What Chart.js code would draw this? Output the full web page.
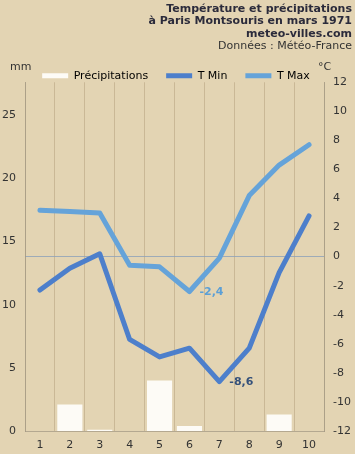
<!DOCTYPE html>
<html>
<head>
<meta charset="utf-8">
<script src="https://cdn.jsdelivr.net/npm/chart.js@4"></script>
<style>
  html, body { margin: 0; padding: 0; background: #e3d4b3; }
  #wrap { width: 355px; height: 454px; }
</style>
</head>
<body>
<div id="wrap"><canvas id="chart-meteo"></canvas></div>
<script>
// jours de mars 1971
const jours = ['1', '2', '3', '4', '5', '6', '7', '8', '9', '10'];
// precipitations en mm
const precipitations = [0, 2.1, 0.1, 0, 4.0, 0.4, 0, 0, 1.3, 0];
// temperatures en °C
const tMin = [-2.3, -0.8, 0.2, -5.7, -6.9, -6.3, -8.6, -6.3, -1.1, 2.8];
const tMax = [3.2, 3.1, 3.0, -0.6, -0.7, -2.4, -0.1, 4.2, 6.3, 7.7];

const titre = ['Température et précipitations', 'à Paris Montsouris en mars 1971', 'meteo-villes.com'];
const source = 'Données : Météo-France';

Chart.defaults.font.family = '"DejaVu Sans", Verdana, sans-serif';
Chart.defaults.font.size = 11;
Chart.defaults.color = '#333';

// fond, unites et etiquettes min/max
const decorPlugin = {
    id: 'decor',
    beforeLayout(chart) {
        // hauteur fixe pour la legende
        const lg = chart.legend;
        if (lg && !lg._fixe) {
            const fit = lg.fit;
            lg.fit = function () { fit.call(this); this.height = 30; };
            lg._fixe = true;
        }
    },
    beforeDraw(chart) {
        const c = chart.ctx;
        c.save();
        c.fillStyle = '#e3d4b3';
        c.fillRect(0, 0, chart.width, chart.height);
        c.restore();
    },
    afterDraw(chart) {
        const c = chart.ctx;
        const area = chart.chartArea;
        c.save();
        c.font = '11px "DejaVu Sans", Verdana, sans-serif';
        c.fillStyle = '#333';
        c.textBaseline = 'middle';
        c.textAlign = 'left';
        c.fillText('mm', 10, 67);
        c.fillText('°C', area.right - 6, 67);

        // valeurs extremes
        c.font = 'bold 11px "DejaVu Sans", Verdana, sans-serif';
        const x = chart.scales.x;
        const y2 = chart.scales.y2;
        const iMax = tMax.indexOf(Math.min(...tMax));
        const iMin = tMin.indexOf(Math.min(...tMin));
        c.fillStyle = '#5b9fd6';
        c.fillText(String(tMax[iMax]).replace('.', ','), x.getPixelForValue(iMax) + 10, y2.getPixelForValue(tMax[iMax]) + 1);
        c.fillStyle = '#34507a';
        c.fillText(String(tMin[iMin]).replace('.', ','), x.getPixelForValue(iMin) + 10, y2.getPixelForValue(tMin[iMin]) + 1);
        c.restore();
    }
};

const ctx = document.getElementById('chart-meteo').getContext('2d');
const chartMeteo = new Chart(ctx, {
    type: 'bar',
    data: {
        labels: jours,
        datasets: [{
            label: 'Précipitations',
            data: precipitations,
            yAxisID: 'y',
            backgroundColor: '#fdfbf6',
            borderWidth: 0,
            barPercentage: 0.84,
            categoryPercentage: 1,
            order: 3
        }, {
            type: 'line',
            label: 'T Min',
            data: tMin,
            yAxisID: 'y2',
            borderColor: '#4d7fcb',
            backgroundColor: '#4d7fcb',
            borderWidth: 5,
            borderCapStyle: 'round',
            borderJoinStyle: 'round',
            pointRadius: 0,
            tension: 0,
            order: 1
        }, {
            type: 'line',
            label: 'T Max',
            data: tMax,
            yAxisID: 'y2',
            borderColor: '#65a3d9',
            backgroundColor: '#65a3d9',
            borderWidth: 5,
            borderCapStyle: 'round',
            borderJoinStyle: 'round',
            pointRadius: 0,
            tension: 0,
            order: 2
        }]
    },
    options: {
        responsive: true,
        maintainAspectRatio: false,
        animation: false,
        layout: {
            padding: { top: 0, right: 3, bottom: 0, left: 0 }
        },
        plugins: {
            title: {
                display: true,
                text: titre,
                align: 'end',
                color: '#2b2b3b',
                font: { size: 11, weight: 'bold', lineHeight: 1.12 },
                padding: { top: 3, bottom: 0 }
            },
            subtitle: {
                display: true,
                text: source,
                align: 'end',
                color: '#333',
                font: { size: 11, lineHeight: 1.12 },
                padding: { top: 0, bottom: 0 }
            },
            legend: {
                position: 'top',
                labels: {
                    boxWidth: 26,
                    boxHeight: 5,
                    padding: 18,
                    color: '#444',
                    font: { size: 11 },
                    generateLabels(chart) {
                        return chart.data.datasets.map((ds, i) => ({
                            text: ds.label,
                            fillStyle: ds.type === 'line' ? ds.borderColor : ds.backgroundColor,
                            strokeStyle: 'transparent',
                            lineWidth: 0,
                            hidden: false,
                            datasetIndex: i
                        }));
                    }
                }
            },
            tooltip: { enabled: false }
        },
        scales: {
            x: {
                grid: {
                    offset: true,
                    color: 'rgba(170, 150, 115, 0.45)',
                    drawTicks: false
                },
                border: { color: 'rgba(160, 150, 130, 0.7)' },
                ticks: { padding: 8, color: '#333' },
                afterFit(scale) { scale.height = 23; }
            },
            y: {
                position: 'left',
                min: 0,
                max: 27.6,
                grid: { display: false, drawTicks: false },
                border: { color: 'rgba(160, 150, 130, 0.7)' },
                ticks: { stepSize: 5, includeBounds: false, padding: 9, color: '#333' },
                afterFit(scale) { scale.width = 25; }
            },
            y2: {
                position: 'right',
                min: -12,
                max: 12,
                grid: {
                    drawTicks: false,
                    color: (c) => c.tick && c.tick.value === 0 ? 'rgba(140, 160, 185, 0.8)' : 'transparent'
                },
                border: { color: 'rgba(160, 150, 130, 0.7)' },
                ticks: { stepSize: 2, padding: 9, color: '#333' },
                afterFit(scale) { scale.width = 28; }
            }
        }
    },
    plugins: [decorPlugin]
});
</script>
</body>
</html>
